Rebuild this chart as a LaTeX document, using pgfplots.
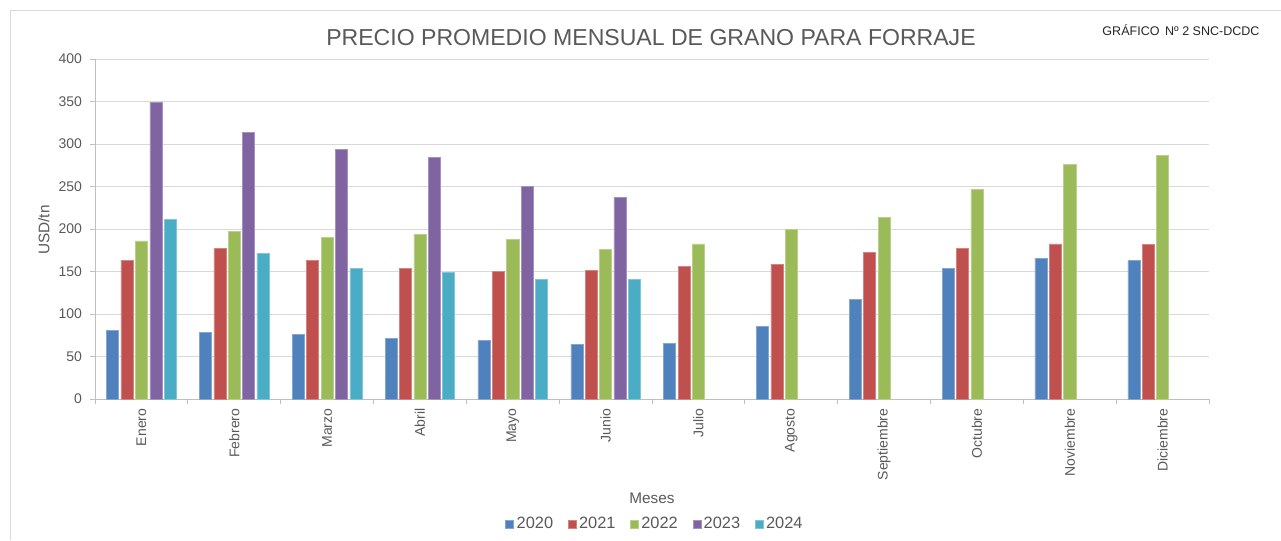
\documentclass[border=0pt]{standalone}
\usepackage{fontspec}
\setmainfont{Liberation Sans}
\usepackage{pgfplots}
\pgfplotsset{compat=1.18}
\definecolor{c20}{HTML}{4F81BD}
\definecolor{c21}{HTML}{C0504D}
\definecolor{c22}{HTML}{9BBB59}
\definecolor{c23}{HTML}{8064A2}
\definecolor{c24}{HTML}{4BACC6}
\definecolor{txt}{HTML}{595959}
\definecolor{gridc}{HTML}{D9D9D9}
\definecolor{axc}{HTML}{BFBFBF}
\begin{document}
\begin{tikzpicture}
\useasboundingbox (0,0) rectangle (960.75pt,405pt);
\draw[color=gridc, line width=0.75pt] (7.5pt,0pt) -- (7.5pt,396.75pt) -- (960.75pt,396.75pt);
\node[font=\fontsize{17.3}{20}\selectfont, text=txt] at (488.25pt,376.5pt) {PRECIO PROMEDIO MENSUAL DE GRANO PARA FORRAJE};
\node[font=\fontsize{9.4}{11}\selectfont, text=black!85] at (885.75pt,382.5pt) {GRÁFICO\, Nº 2 SNC-DCDC};
\node[font=\fontsize{11.5}{13}\selectfont, text=txt] at (489pt,31.5pt) {Meses};
\node[font=\fontsize{11.5}{13}\selectfont, text=txt, rotate=90] at (33pt,232.5pt) {USD/tn};
\begin{axis}[
  at={(71.25pt,105.75pt)}, anchor=south west,
  scale only axis, width=835.5pt, height=255pt,
  xmin=-0.5, xmax=11.5, ymin=0, ymax=400,
  ytick={0,50,...,400},
  xtick={-0.5,0.5,...,11.5},
  x tick label as interval,
  xticklabels={Enero,Febrero,Marzo,Abril,Mayo,Junio,Julio,Agosto,Septiembre,Octubre,Noviembre,Diciembre},
  axis x line*=bottom, axis y line*=left,
  axis line style={axc, line width=0.75pt},
  tick align=outside, major tick length=3.75pt,
  tick style={axc, line width=0.75pt},
  ymajorgrids, grid style={gridc, line width=0.75pt},
  ticklabel style={font=\fontsize{10.5}{12}\selectfont, text=txt},
  xticklabel style={rotate=90, anchor=east},
  yticklabel style={xshift=-2.5pt},
  /pgf/number format/assume math mode=true,
  ybar, bar width=0.13,
  legend columns=5,
  legend style={at={(0.503,-0.368)}, anchor=center, draw=none, fill=none,
    font=\fontsize{12.3}{14}\selectfont, text=txt,
    /tikz/every even column/.append style={column sep=9pt}},
  legend image code/.code={\fill[#1] (0pt,-3pt) rectangle (6pt,3pt);},
]
\addplot[fill=c20, draw=c20!70!white, line width=0.4pt, bar shift=-0.31] coordinates {
(0,80.4) (1,78.4) (2,75.7) (3,71.4) (4,68.6) (5,64.7) (6,65.5) (7,85.5) (8,117.3) (9,154.1) (10,165.5) (11,162.7)};
\addplot[fill=c21, draw=c21!70!white, line width=0.4pt, bar shift=-0.155] coordinates {
(0,163.5) (1,176.9) (2,163.5) (3,153.7) (4,149.8) (5,151.4) (6,156.1) (7,158.8) (8,172.9) (9,176.9) (10,182.4) (11,181.6)};
\addplot[fill=c22, draw=c22!70!white, line width=0.4pt, bar shift=0] coordinates {
(0,185.9) (1,197.3) (2,189.8) (3,193.7) (4,187.8) (5,175.7) (6,182.4) (7,200.0) (8,214.1) (9,246.7) (10,275.7) (11,286.7)};
\addplot[fill=c23, draw=c23!70!white, line width=0.4pt, bar shift=0.155] coordinates {
(0,349.4) (1,314.1) (2,293.7) (3,284.3) (4,249.8) (5,237.6)};
\addplot[fill=c24, draw=c24!70!white, line width=0.4pt, bar shift=0.31] coordinates {
(0,211.0) (1,171.4) (2,153.3) (3,149.0) (4,140.4) (5,140.4)};
\legend{2020,2021,2022,2023,2024}
\end{axis}
\end{tikzpicture}
\end{document}
